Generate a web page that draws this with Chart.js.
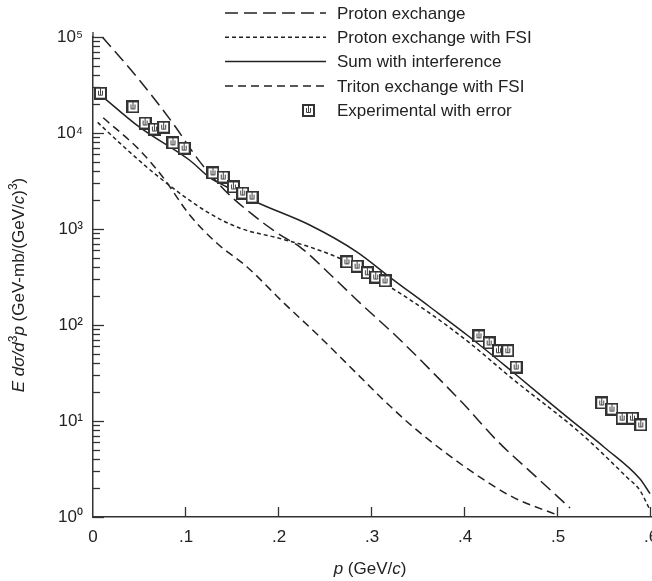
<!DOCTYPE html>
<html>
<head>
<meta charset="utf-8">
<script src="https://cdn.jsdelivr.net/npm/chart.js@4.4.0/dist/chart.umd.min.js"></script>
<style>
  html, body { margin: 0; padding: 0; background: #fff; overflow: hidden; }
  #wrap { position: relative; width: 652px; height: 581px; }
</style>
</head>
<body>
<div id="wrap"><canvas id="chart"></canvas></div>
<script>
// values (p in GeV/c, cross section in GeV-mb/(GeV/c)^3)
const protonP = [0.01, 0.05, 0.086, 0.115, 0.144, 0.169, 0.198, 0.223, 0.258, 0.287, 0.327, 0.366, 0.40, 0.434, 0.475, 0.513];
const protonV = [100000, 35500, 12600, 5000, 2400, 1480, 910, 645, 316, 170, 75, 31.6, 14.5, 6.3, 2.7, 1.24];

const fsiP = [0.005, 0.037, 0.072, 0.123, 0.158, 0.198, 0.233, 0.269, 0.319, 0.362, 0.405, 0.452, 0.524, 0.574, 0.588, 0.599];
const fsiV = [12900, 6650, 3400, 1500, 1020, 810, 650, 475, 250, 133, 65, 27, 7.5, 2.6, 1.9, 1.18];

const sumP = [0.008, 0.05, 0.104, 0.126, 0.144, 0.176, 0.233, 0.284, 0.319, 0.362, 0.405, 0.452, 0.505, 0.55, 0.588, 0.599];
const sumV = [25000, 11500, 5200, 3400, 2740, 1900, 1100, 575, 316, 155, 75, 32, 12, 5.3, 2.5, 1.75];

const tritonP = [0.011, 0.05, 0.075, 0.104, 0.133, 0.166, 0.204, 0.241, 0.287, 0.309, 0.344, 0.38, 0.416, 0.452, 0.499];
const tritonV = [14400, 6650, 3480, 1400, 715, 400, 174, 80, 29, 17.8, 8.7, 4.6, 2.6, 1.6, 1.05];

const expP = [0.008, 0.043, 0.056, 0.066, 0.076, 0.086, 0.098, 0.129, 0.14, 0.151, 0.161, 0.171,
              0.273, 0.284, 0.295, 0.304, 0.314, 0.415, 0.426, 0.436, 0.446, 0.455,
              0.547, 0.558, 0.569, 0.58, 0.589];
const expV = [26000, 18700, 12700, 11000, 11500, 7900, 6950, 3840, 3480, 2740, 2370, 2150,
              455, 410, 350, 316, 288, 77, 65, 54, 54, 36.5,
              15.4, 13.3, 10.7, 10.7, 9.1];

const xTicks = [0, 0.1, 0.2, 0.3, 0.4, 0.5, 0.6];
const decades = [0, 1, 2, 3, 4, 5];
const sup = ['\u2070', '\u00B9', '\u00B2', '\u00B3', '\u2074', '\u2075'];

const INK = '#222';
const FONT = "'Liberation Sans', Arial, Helvetica, sans-serif";

function pts(xs, ys) {
    return xs.map((x, i) => ({ x: x, y: ys[i] }));
}

// square marker with the little error bar inside
function makeMarker() {
    const c = document.createElement('canvas');
    c.width = 13; c.height = 13;
    const g = c.getContext('2d');
    g.fillStyle = '#fff';
    g.fillRect(1, 1, 11, 11);
    g.strokeStyle = '#333';
    g.lineWidth = 2;
    g.strokeRect(1, 1, 11, 11);
    g.strokeStyle = '#444';
    g.lineWidth = 1;
    g.beginPath();
    g.moveTo(6.5, 2); g.lineTo(6.5, 8);
    g.moveTo(4.5, 4); g.lineTo(4.5, 8.5); g.lineTo(8.5, 8.5); g.lineTo(8.5, 4);
    g.stroke();
    return c;
}
const marker = makeMarker();

function lineSet(label, xs, ys, dash) {
    return {
        type: 'line',
        label: label,
        data: pts(xs, ys),
        borderColor: INK,
        borderWidth: 1.5,
        borderDash: dash,
        pointRadius: 0,
        fill: false,
        cubicInterpolationMode: 'monotone',
        order: 1
    };
}

// draws a run of text pieces (some italic / superscript) centred on x
function drawRich(ctx, parts, cx, cy, size) {
    const fontOf = p => (p.italic ? 'italic ' : '') + (p.sup ? Math.round(size * 0.7) : size) + 'px ' + FONT;
    let total = 0;
    parts.forEach(p => { ctx.font = fontOf(p); total += ctx.measureText(p.t).width; });
    let x = cx - total / 2;
    ctx.textAlign = 'left';
    ctx.textBaseline = 'alphabetic';
    parts.forEach(p => {
        ctx.font = fontOf(p);
        ctx.fillText(p.t, x, cy + (p.sup ? -size * 0.4 : 0));
        x += ctx.measureText(p.t).width;
    });
}

const decor = {
    id: 'decor',
    afterDraw(chart) {
        const ctx = chart.ctx;
        const xs = chart.scales.x, ys = chart.scales.y;
        const area = chart.chartArea;
        ctx.save();
        ctx.strokeStyle = '#333';
        ctx.lineWidth = 1.3;
        ctx.setLineDash([]);
        // inward ticks on the y axis
        ys.ticks.forEach(t => {
            const y = Math.round(ys.getPixelForValue(t.value)) + 0.5;
            const e = Math.log10(t.value);
            const len = Math.abs(e - Math.round(e)) < 1e-9 ? 11 : 7;
            ctx.beginPath();
            ctx.moveTo(area.left, y);
            ctx.lineTo(area.left + len, y);
            ctx.stroke();
        });
        // inward ticks on the x axis
        xs.ticks.forEach(t => {
            if (t.value === 0) return;
            const x = Math.round(xs.getPixelForValue(t.value)) - 0.5;
            ctx.beginPath();
            ctx.moveTo(x, area.bottom);
            ctx.lineTo(x, area.bottom - 10);
            ctx.stroke();
        });
        // y axis runs a little past the top decade
        ctx.beginPath();
        ctx.moveTo(area.left, area.top);
        ctx.lineTo(area.left, area.top - 5);
        ctx.stroke();

        // legend
        const rows = [0, 1, 2, 3, 4].map(i => 13 + i * 24.3);
        const order = ['Proton exchange', 'Proton exchange with FSI', 'Sum with interference',
                       'Triton exchange with FSI', 'Experimental with error'];
        ctx.font = '17px ' + FONT;
        ctx.fillStyle = INK;
        ctx.textBaseline = 'middle';
        ctx.textAlign = 'left';
        order.forEach((name, i) => {
            const ds = chart.data.datasets.find(d => d.label === name);
            const y = rows[i];
            if (ds.type === 'line') {
                ctx.strokeStyle = INK;
                ctx.lineWidth = 1.5;
                ctx.setLineDash(ds.borderDash || []);
                ctx.beginPath();
                ctx.moveTo(225, y);
                ctx.lineTo(326, y);
                ctx.stroke();
                ctx.setLineDash([]);
            } else {
                ctx.drawImage(marker, 308 - 6, Math.round(y) - 6);
            }
            ctx.fillText(name, 337, y + 1);
        });

        // axis titles
        ctx.fillStyle = INK;
        drawRich(ctx, [
            { t: 'p', italic: true },
            { t: ' (GeV/' },
            { t: 'c', italic: true },
            { t: ')' }
        ], 370, 574, 17);

        ctx.translate(24, 285);
        ctx.rotate(-Math.PI / 2);
        drawRich(ctx, [
            { t: 'E d\u03C3/d', italic: true },
            { t: '3', sup: true },
            { t: 'p', italic: true },
            { t: ' (GeV-mb/(GeV/' },
            { t: 'c', italic: true },
            { t: ')' },
            { t: '3', sup: true },
            { t: ')' }
        ], 0, 0, 17);
        ctx.restore();
    }
};

Chart.defaults.font.family = FONT;
Chart.defaults.font.size = 17;
Chart.defaults.color = INK;

new Chart(document.getElementById('chart'), {
    data: {
        datasets: [
            {
                type: 'scatter',
                label: 'Experimental with error',
                data: pts(expP, expV),
                pointStyle: marker,
                pointRadius: 6.5,
                order: 0
            },
            lineSet('Proton exchange', protonP, protonV, [13, 6]),
            lineSet('Proton exchange with FSI', fsiP, fsiV, [4, 3]),
            lineSet('Sum with interference', sumP, sumV, []),
            lineSet('Triton exchange with FSI', tritonP, tritonV, [8, 5])
        ]
    },
    options: {
        responsive: true,
        maintainAspectRatio: false,
        animation: false,
        layout: { autoPadding: false, padding: { top: 37, right: 1, left: 0, bottom: 0 } },
        plugins: {
            legend: { display: false },
            tooltip: { enabled: false }
        },
        scales: {
            x: {
                type: 'linear',
                min: 0,
                max: 0.6,
                grid: { display: false, drawTicks: false },
                border: { display: true, color: '#333', width: 1.5 },
                afterBuildTicks: s => { s.ticks = xTicks.map(v => ({ value: v })); },
                ticks: {
                    autoSkip: false,
                    maxRotation: 0,
                    padding: 10,
                    callback: v => v === 0 ? '0' : '.' + Math.round(v * 10)
                },
                // let the ".6" label run off the edge, as in the original
                afterFit: s => { s.height = 64; s.paddingLeft = 0; s.paddingRight = 0; }
            },
            y: {
                type: 'logarithmic',
                min: 1,
                max: 100000,
                grid: { display: false, drawTicks: false },
                border: { display: true, color: '#333', width: 1.5 },
                afterBuildTicks: s => {
                    const t = [];
                    decades.forEach(e => {
                        for (let m = 1; m < 10; m++) {
                            if (e === 5 && m > 1) break;
                            t.push({ value: m * Math.pow(10, e) });
                        }
                    });
                    s.ticks = t;
                },
                ticks: {
                    autoSkip: false,
                    padding: 10,
                    callback: v => {
                        const e = Math.log10(v);
                        return Math.abs(e - Math.round(e)) < 1e-9 ? '10' + sup[Math.round(e)] : '';
                    }
                },
                afterFit: s => { s.width = 93; s.paddingTop = 0; s.paddingBottom = 0; }
            }
        }
    },
    plugins: [decor]
});
</script>
</body>
</html>
